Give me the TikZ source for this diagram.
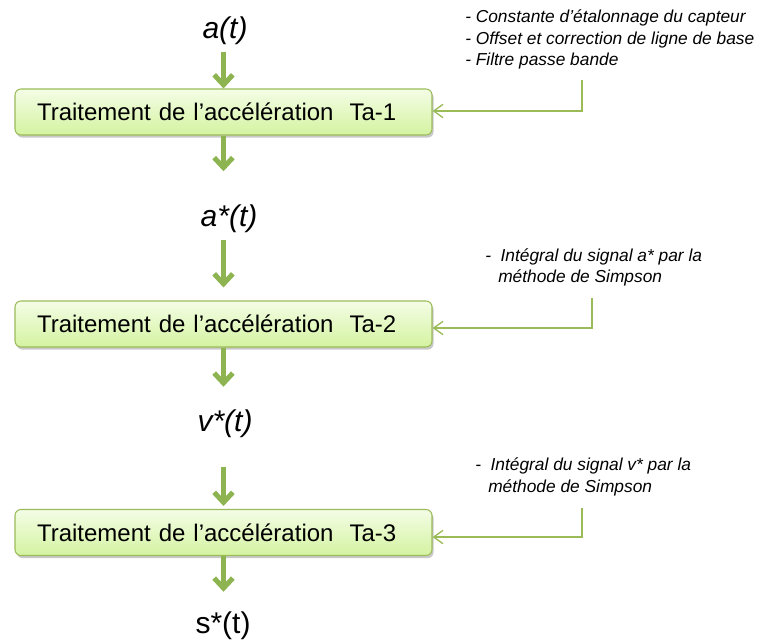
\documentclass[tikz,border=0pt]{standalone}
\usepackage{fontspec}
\setmainfont{Liberation Sans}
\usetikzlibrary{arrows.meta,shadows}
\definecolor{flowgreen}{RGB}{141,180,80}
\definecolor{boxborder}{RGB}{155,187,89}
\definecolor{boxtop}{RGB}{244,253,230}
\definecolor{boxbot}{RGB}{212,243,160}
\begin{document}
\begin{tikzpicture}[x=0.75pt,y=-0.75pt,
  sig/.style={font=\fontsize{22.5}{26}\selectfont, inner sep=0pt},
  stepbox/.style={draw=boxborder, line width=0.8pt, rounded corners=4.5pt,
    top color=boxtop, bottom color=boxbot,
    minimum width=312.75pt, minimum height=34.5pt, text width=279.75pt,
    inner xsep=16.5pt, align=left, font=\fontsize{18}{21}\selectfont,
    drop shadow={shadow xshift=1.2pt, shadow yshift=-2pt, opacity=0.3, fill=black!70}},
  note/.style={font=\fontsize{13}{16}\selectfont\itshape, inner sep=0pt, align=left, anchor=west},
  flow/.style={draw=flowgreen, line width=3.75pt, -{Straight Barb[length=7.5pt,width=14pt]}},
  feed/.style={draw=boxborder, line width=1pt, -{Straight Barb[length=7pt,width=10pt]}}
]
\useasboundingbox (0,0) rectangle (757,642);

% signals
\node[sig] (at) at (225,30.5) {\itshape a(t)};
\node[sig] (as) at (229,218.5) {\itshape a*(t)};
\node[sig] (vs) at (225,424) {\itshape v*(t)};
\node[sig] (ss) at (223,626) {s*(t)};

% boxes
\node[stepbox] (b1) at (223.5,112) {Traitement de l’accélération\ \ Ta-1};
\node[stepbox] (b2) at (223.5,324) {Traitement de l’accélération\ \ Ta-2};
\node[stepbox] (b3) at (223.5,532.5) {Traitement de l’accélération\ \ Ta-3};

% flow arrows
\draw[flow, shorten <=5.25pt] (at.south -| b1.north) -- (b1.north);
\draw[flow, shorten >=24.75pt] (b1.south) -- (b1.south |- as.north);
\draw[flow, shorten <=5.25pt, shorten >=9.75pt] (as.south -| b2.north) -- (b2.north);
\draw[flow, shorten >=17.25pt] (b2.south) -- (b2.south |- vs.north);
\draw[flow, shorten <=21.75pt, shorten >=2.25pt] (vs.south -| b3.north) -- (b3.north);
\draw[flow, shorten >=15pt] (b3.south) -- (b3.south |- ss.north);

% notes
\node[note] (n1) at (465,39.5) {- Constante d’étalonnage du capteur\\- Offset et correction de ligne de base\\- Filtre passe bande};
\node[note] (n2) at (485,267.5) {-\ \ Intégral du signal a* par la\\\hspace*{9.75pt}méthode de Simpson};
\node[note] (n3) at (475,477) {-\ \ Intégral du signal v* par la\\\hspace*{9.75pt}méthode de Simpson};

\coordinate (f1) at (582,80);
\coordinate (f2) at (592,298);
\coordinate (f3) at (582,508);
\draw[feed] (f1) |- ([yshift=0.75pt]b1.east);
\draw[feed] (f2) |- ([yshift=-3pt]b2.east);
\draw[feed] (f3) |- ([yshift=-3.4pt]b3.east);
\end{tikzpicture}
\end{document}
